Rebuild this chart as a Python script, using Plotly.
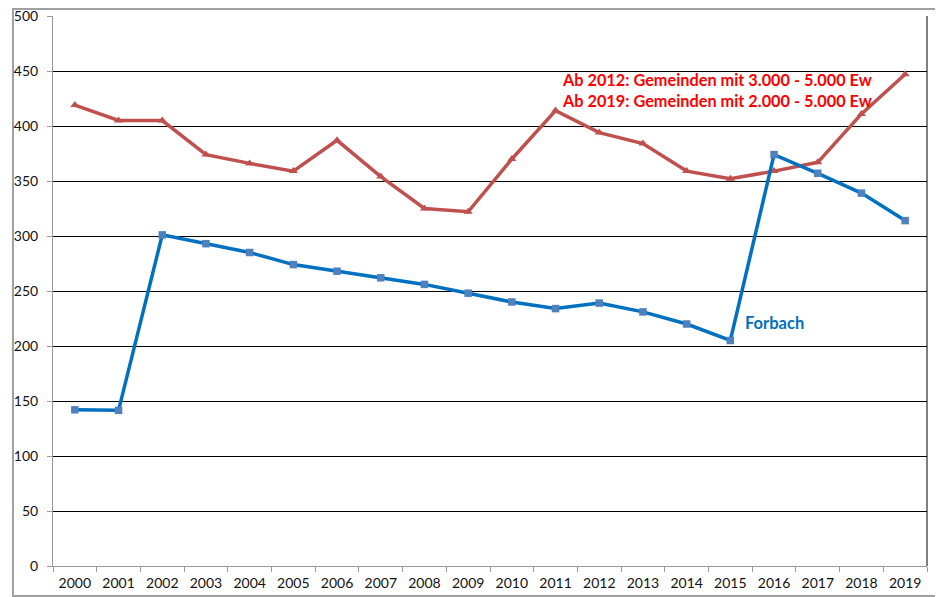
import plotly.graph_objects as go

# Jahre und Werte
years = [str(y) for y in range(2000, 2020)]
forbach = [142, 141.5, 301, 293, 285, 274, 268, 262, 256, 248,
           240, 234, 239, 231, 220, 205, 374, 357, 339, 314]
vergleich = [419, 405, 405, 374, 366, 359, 387, 354, 325, 322,
             370, 414, 394, 384, 359, 352, 359, 367, 411, 447]
y_ticks = list(range(0, 501, 50))

FONT = "Lato"
BLUE_LINE = "#0070C0"
BLUE_MARK = "#4F81BD"
RED = "#C0504D"

fig = go.Figure()
fig.add_trace(go.Scatter(
    x=years, y=vergleich, mode="lines+markers",
    line=dict(color=RED, width=3.5),
    marker=dict(symbol="triangle-up", size=8, color=RED),
))
fig.add_trace(go.Scatter(
    x=years, y=forbach, mode="lines+markers",
    line=dict(color=BLUE_LINE, width=3.5),
    marker=dict(symbol="square", size=7.5, color=BLUE_MARK),
))

# Beschriftungen im Diagramm
fig.add_annotation(
    text="<b>Ab 2012: Gemeinden mit 3.000 - 5.000 Ew</b>",
    x=11.1, y=442, xanchor="left", yanchor="middle", showarrow=False,
    font=dict(family=FONT, size=16.3, color="#FF0000"),
)
fig.add_annotation(
    text="<b>Ab 2019: Gemeinden mit 2.000 - 5.000 Ew</b>",
    x=11.1, y=423, xanchor="left", yanchor="middle", showarrow=False,
    font=dict(family=FONT, size=16.3, color="#FF0000"),
)
fig.add_annotation(
    text="<b>Forbach</b>",
    x=15.29, y=221, xanchor="left", yanchor="middle", showarrow=False,
    font=dict(family=FONT, size=16.5, color=BLUE_LINE),
)

# Rahmen um das gesamte Diagramm
fig.add_shape(
    type="rect", xref="paper", yref="paper",
    x0=-0.0458, x1=1.016, y0=-0.0545, y1=1.0127,
    line=dict(color="#A0A0A0", width=2), fillcolor="rgba(0,0,0,0)",
    layer="below",
)

# Seite hat 8px Rand, daher Figur um 8px kleiner
fig.update_layout(
    width=935, height=589,
    margin=dict(l=45, r=16, t=8, b=31),
    paper_bgcolor="white", plot_bgcolor="white",
    showlegend=False,
    font=dict(family=FONT, size=14, color="#111111"),
)
fig.update_xaxes(
    type="category", tickson="boundaries", range=[-0.5, 19.5],
    ticks="outside", ticklen=5, tickcolor="#999999",
    showline=True, linecolor="#999999", linewidth=1,
    showgrid=False, mirror=False, ticklabelstandoff=4, automargin=False,
)
fig.update_yaxes(
    range=[0, 500], tickvals=y_ticks,
    ticks="outside", ticklen=5, tickcolor="#999999",
    showline=True, linecolor="#999999", linewidth=1,
    showgrid=True, gridcolor="#000000", gridwidth=1,
    zeroline=False, ticklabeloverflow="allow", ticklabelstandoff=6,
    automargin=False,
)
# rechte Kante schwarz wie in der Vorlage
fig.add_shape(
    type="line", xref="paper", yref="paper",
    x0=1, x1=1, y0=0, y1=1, line=dict(color="#000000", width=1),
)

fig.write_html("out.html")
